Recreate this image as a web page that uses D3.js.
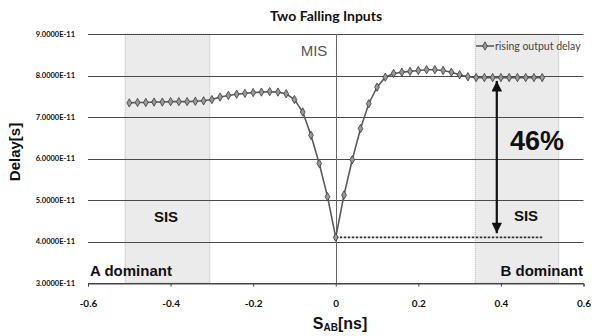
<!DOCTYPE html>
<html><head><meta charset="utf-8">
<script src="https://cdn.jsdelivr.net/npm/d3@7"></script>
<style>body{margin:0;background:#fff}svg{display:block}</style>
</head><body>
<svg id="c" width="592" height="336"></svg>
<script>
// ---- data ----
const xValues = [-0.50,-0.48,-0.46,-0.44,-0.42,-0.40,-0.38,-0.36,-0.34,-0.32,-0.30,-0.28,-0.26,-0.24,-0.22,-0.20,-0.18,-0.16,-0.14,-0.12,-0.10,-0.08,-0.06,-0.04,-0.02,0.00,0.02,0.04,0.06,0.08,0.10,0.12,0.14,0.16,0.18,0.20,0.22,0.24,0.26,0.28,0.30,0.32,0.34,0.36,0.38,0.40,0.42,0.44,0.46,0.48,0.50];
const delayValues = [7.34,7.35,7.35,7.36,7.36,7.37,7.37,7.37,7.38,7.39,7.42,7.48,7.52,7.55,7.57,7.59,7.60,7.61,7.60,7.56,7.42,7.12,6.56,5.88,5.08,4.10,5.12,5.97,6.72,7.32,7.72,7.96,8.05,8.08,8.10,8.12,8.14,8.14,8.12,8.08,8.02,7.97,7.95,7.95,7.95,7.95,7.95,7.95,7.95,7.95,7.95].map(v => v * 1e-11);
const sisLevelX = [0.00, 0.50];
const sisLevelY = [4.10e-11, 4.10e-11];
const xTicks = [-0.6,-0.4,-0.2,0,0.2,0.4,0.6];
const xTickLabels = ["-0.6","-0.4","-0.2","0","0.2","0.4","0.6"];
const yTicks = [3e-11,4e-11,5e-11,6e-11,7e-11,8e-11,9e-11];
const yTickLabels = ["3.0000E-11","4.0000E-11","5.0000E-11","6.0000E-11","7.0000E-11","8.0000E-11","9.0000E-11"];
const shadeRegions = [[-0.51,-0.305],[0.338,0.54]];
const arrowX = 0.39;
const arrowRange = [7.87e-11, 4.20e-11];
const seriesName = "rising output delay";

// ---- layout ----
const svg = d3.select("#c");
const L = 88, R = 583.5, T = 34, B = 283;
const x = d3.scaleLinear().domain([-0.6,0.6]).range([L,R]);
const y = d3.scaleLinear().domain([3e-11,9e-11]).range([B,T]);

// shaded regions
svg.append("g").selectAll("rect").data(shadeRegions).join("rect")
  .attr("x", d => x(d[0])).attr("width", d => x(d[1]) - x(d[0]))
  .attr("y", T).attr("height", B - T)
  .attr("fill", "#ebebeb").attr("stroke", "#b5b5b5")
  .attr("stroke-dasharray", "1,1").attr("stroke-width", 1);

// horizontal gridlines
svg.append("g").selectAll("line").data(yTicks).join("line")
  .attr("x1", L).attr("x2", R)
  .attr("y1", d => Math.round(y(d)) + 0.5).attr("y2", d => Math.round(y(d)) + 0.5)
  .attr("stroke", "#4a4a4a").attr("stroke-width", 1.1);

// vertical zero line
svg.append("line")
  .attr("x1", Math.round(x(0)) + 0.5).attr("x2", Math.round(x(0)) + 0.5)
  .attr("y1", T).attr("y2", B)
  .attr("stroke", "#666").attr("stroke-width", 1);

// x axis ticks
const xAxis = d3.axisBottom(x).tickValues(xTicks).tickSize(3).tickFormat((d,i) => xTickLabels[i]);
const gx = svg.append("g").attr("transform", `translate(0,${Math.round(B)+0.5})`).call(xAxis);
gx.select(".domain").attr("stroke", "#444");
gx.selectAll(".tick line").attr("stroke", "#444");
gx.selectAll(".tick text").attr("dy", null).attr("y", 23)
  .attr("font-family", "Lato, 'Liberation Sans', sans-serif").attr("font-weight", "bold")
  .attr("font-size", 10).attr("fill", "#111");

// y axis labels
const yAxis = d3.axisLeft(y).tickValues(yTicks).tickSize(0).tickPadding(0).tickFormat((d,i) => yTickLabels[i]);
const gy = svg.append("g").attr("transform", `translate(${L - 13},0)`).call(yAxis);
gy.select(".domain").remove();
gy.selectAll(".tick text").attr("font-family", "Lato, 'Liberation Sans', sans-serif")
  .attr("font-weight", "bold").attr("font-size", 7.5).attr("fill", "#111");

// SIS level dashed line
svg.append("path")
  .datum(sisLevelX.map((d,i) => [d, sisLevelY[i]]))
  .attr("d", d3.line().x(d => x(d[0])).y(d => y(d[1])))
  .attr("fill", "none").attr("stroke", "#333").attr("stroke-width", 1.6)
  .attr("stroke-dasharray", "2.5,1.5");

// series
const pts = xValues.map((d,i) => [d, delayValues[i]]);
svg.append("path").datum(pts)
  .attr("d", d3.line().x(d => x(d[0])).y(d => y(d[1])))
  .attr("fill", "none").attr("stroke", "#5a5a5a").attr("stroke-width", 1.6);
const sym = d3.symbol().type(d3.symbolDiamond).size(20);
svg.append("g").selectAll("path").data(pts).join("path")
  .attr("transform", d => `translate(${x(d[0])},${y(d[1])})`)
  .attr("d", sym).attr("fill", "#999").attr("stroke", "#3a3a3a").attr("stroke-width", 0.8);

// arrow
const defs = svg.append("defs");
defs.append("marker").attr("id", "ah").attr("viewBox", "0 0 10 10")
  .attr("refX", 10).attr("refY", 5).attr("markerWidth", 5.5).attr("markerHeight", 4.8)
  .attr("markerUnits", "strokeWidth").attr("orient", "auto-start-reverse")
  .append("path").attr("d", "M0,0 L10,5 L0,10 Z").attr("fill", "#111");
svg.append("line")
  .attr("x1", x(arrowX)).attr("x2", x(arrowX))
  .attr("y1", y(arrowRange[0])).attr("y2", y(arrowRange[1]))
  .attr("stroke", "#111").attr("stroke-width", 2.2)
  .attr("marker-start", "url(#ah)").attr("marker-end", "url(#ah)");

// legend
const lgY = 46;
svg.append("line").attr("x1", 476).attr("x2", 494).attr("y1", lgY).attr("y2", lgY)
  .attr("stroke", "#5a5a5a").attr("stroke-width", 1.6);
svg.append("path").attr("transform", `translate(485,${lgY})`).attr("d", sym)
  .attr("fill", "#999").attr("stroke", "#3a3a3a").attr("stroke-width", 0.8);
svg.append("text").attr("x", 495).attr("y", lgY + 3.5).text(seriesName)
  .attr("font-family", "Lato, 'Liberation Sans', sans-serif").attr("font-size", 10.5).attr("fill", "#444");

// text annotations
const ann = (t, xx, yy, size, weight, fill, anchor, fam) => svg.append("text")
  .attr("x", xx).attr("y", yy).text(t).attr("font-size", size).attr("font-weight", weight)
  .attr("fill", fill).attr("text-anchor", anchor || "start")
  .attr("font-family", fam || "'Liberation Sans', Arial, sans-serif");

ann("Two Falling Inputs", 326, 21, 14, "bold", "#111", "middle", "Lato, 'Liberation Sans', sans-serif");
ann("MIS", 314, 56, 15, "normal", "#555", "middle");
ann("46%", 537, 150, 27, "bold", "#111", "middle");
ann("SIS", 166, 222, 15, "bold", "#111", "middle");
ann("SIS", 526, 221, 15, "bold", "#111", "middle");
ann("A dominant", 90, 276, 15, "bold", "#111", "start");
ann("B dominant", 583, 276, 15, "bold", "#111", "end");

// axis titles
svg.append("text").attr("transform", "translate(20,152) rotate(-90)")
  .attr("text-anchor", "middle").attr("font-family", "'Liberation Sans', Arial, sans-serif")
  .attr("font-weight", "bold").attr("font-size", 15).attr("fill", "#111").text("Delay[s]");
const xt = svg.append("text").attr("x", 340).attr("y", 329).attr("text-anchor", "middle")
  .attr("font-family", "'Liberation Sans', Arial, sans-serif").attr("font-weight", "bold")
  .attr("font-size", 16).attr("fill", "#111");
xt.append("tspan").text("S");
xt.append("tspan").attr("font-size", 10).attr("dy", 2).text("AB");
xt.append("tspan").attr("dy", -2).text("[ns]");
</script>
</body></html>
